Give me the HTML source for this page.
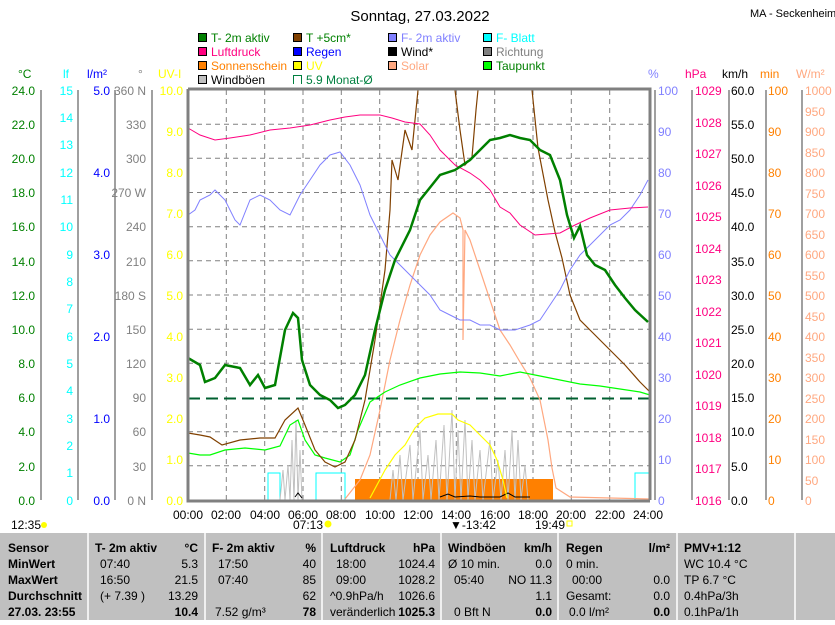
<!DOCTYPE html>
<html><head><meta charset="utf-8"><style>
body{margin:0;background:#fff;width:835px;height:620px;overflow:hidden;font-family:"Liberation Sans",sans-serif}
svg text{font-family:"Liberation Sans",sans-serif;font-size:12px}
</style></head><body>
<svg width="835" height="620" xmlns="http://www.w3.org/2000/svg">
<text x="420" y="21" text-anchor="middle" style="font-size:15px">Sonntag, 27.03.2022</text>
<text x="750" y="17" style="font-size:11px">MA - Seckenheim</text>
<!-- legend -->
<g stroke="#000" stroke-width="1">
<rect x="198.5" y="33.5" width="8" height="8" fill="#008000"/><rect x="293.5" y="33.5" width="8" height="8" fill="#804000"/><rect x="388.5" y="33.5" width="8" height="8" fill="#8080ff"/><rect x="483.5" y="33.5" width="8" height="8" fill="#00ffff"/>
<rect x="198.5" y="47.5" width="8" height="8" fill="#ff0080"/><rect x="293.5" y="47.5" width="8" height="8" fill="#0000ff"/><rect x="388.5" y="47.5" width="8" height="8" fill="#000"/><rect x="483.5" y="47.5" width="8" height="8" fill="#808080"/>
<rect x="198.5" y="61.5" width="8" height="8" fill="#ff8000"/><rect x="293.5" y="61.5" width="8" height="8" fill="#ffff00"/><rect x="388.5" y="61.5" width="8" height="8" fill="#ffa880"/><rect x="483.5" y="61.5" width="8" height="8" fill="#00ff00"/>
<rect x="198.5" y="75.5" width="8" height="8" fill="#c0c0c0"/>
</g>
<path d="M293.5 84V75.5H301.5V84" fill="none" stroke="#008040"/>
<g style="font-size:12px">
<text x="211" y="42" fill="#008000">T- 2m aktiv</text><text x="306" y="42" fill="#008000">T +5cm*</text><text x="401" y="42" fill="#8080ff">F- 2m aktiv</text><text x="496" y="42" fill="#00ffff">F- Blatt</text>
<text x="211" y="56" fill="#ff0080">Luftdruck</text><text x="306" y="56" fill="#0000ff">Regen</text><text x="401" y="56">Wind*</text><text x="496" y="56" fill="#808080">Richtung</text>
<text x="211" y="70" fill="#ff8000">Sonnenschein</text><text x="306" y="70" fill="#ffff00">UV</text><text x="401" y="70" fill="#ffa880">Solar</text><text x="496" y="70" fill="#008000">Taupunkt</text>
<text x="211" y="84">Windböen</text><text x="306" y="84" fill="#008040">5.9 Monat-Ø</text>
</g>
<!-- axis titles -->
<g style="font-size:11px">
<text x="18" y="78" fill="#008000">°C</text><text x="63" y="78" fill="#00ffff">lf</text><text x="87" y="78" fill="#0000ff">l/m²</text><text x="138" y="78" fill="#808080">°</text><text x="158" y="78" fill="#ffff00">UV-I</text>
<text x="648" y="78" fill="#8080ff">%</text><text x="685" y="78" fill="#ff0080">hPa</text><text x="722" y="78">km/h</text><text x="760" y="78" fill="#ff8000">min</text><text x="796" y="78" fill="#ffa880">W/m²</text>
</g>
<!-- grid -->
<g stroke="#808080" stroke-dasharray="5,4" stroke-width="1">
<path d="M226.3 90V500M264.7 90V500M303 90V500M341.3 90V500M379.7 90V500M418 90V500M456.3 90V500M494.7 90V500M533 90V500M571.3 90V500M609.7 90V500"/>
<path d="M188 124.2H650M188 158.3H650M188 192.5H650M188 226.7H650M188 260.8H650M188 295H650M188 329.2H650M188 363.3H650M188 431.7H650M188 465.8H650"/>
</g>
<path d="M188 398.5H650" stroke="#006030" stroke-width="2" stroke-dasharray="12,6"/>
<!-- orange sunshine -->
<rect x="355" y="479" width="198" height="21" fill="#ff8000"/>
<!-- cyan -->
<path d="M268 500V473H280V500M316 500V473H345V500M635 500V473H650" fill="none" stroke="#00ffff"/>
<!-- wind gusts -->
<path d="M280 500L283 470L285 500L288 465L290 500L292 440L294 500L296 420L298 500L300 450L302 500M390 500L393 470L396 500L400 455L403 500L410 445L413 500L420 430L423 500L428 455L431 500L436 440L439 500L444 425L447 500L452 410L455 500L458 430L461 500L465 420L468 500L472 440L475 500L480 450L483 500L490 440L493 500L498 460L501 500L505 450L508 500L512 430L515 500L518 440L521 500L525 465L528 500" fill="none" stroke="#c0c0c0"/>
<path d="M440 497L448 494L455 497L470 496L480 497L500 497L508 493L515 497L530 497M295 497L298 493L302 498" fill="none" stroke="#000"/>
<!-- UV -->
<polyline fill="none" stroke="#ffff00" stroke-width="1.2" points="370,498 385,470 395,455 405,445 415,428 425,418 438,414 452,414 458,420 470,425 480,435 490,445 497,460 503,480 507,498"/>
<!-- Solar -->
<polyline fill="none" stroke="#ffa880" stroke-width="1.2" points="345,499 360,480 370,455 380,410 390,360 400,320 410,285 420,255 430,235 440,222 453,213 460,218 463,230 463,340 465,230 470,240 480,270 490,300 500,330 510,345 520,362 530,378 540,400 548,440 552,468 556,488 570,497 650,499"/>
<!-- Taupunkt -->
<polyline fill="none" stroke="#00ff00" stroke-width="1.2" points="188,453 200,455 210,455 225,450 245,448 265,450 280,446 290,425 298,420 305,440 315,455 325,458 340,462 350,455 358,430 370,402 385,392 400,385 420,378 440,374 460,372 480,373 500,376 520,372 540,376 560,380 580,384 600,386 620,389 640,392 650,395"/>
<!-- T+5cm -->
<polyline fill="none" stroke="#804000" stroke-width="1.2" points="188,433 200,435 210,437 222,445 240,440 260,438 275,438 285,420 298,408 305,425 315,450 325,462 335,467 345,462 355,440 365,400 375,340 385,270 390,210 392,160 398,180 405,130 412,150 418,90"/>
<polyline fill="none" stroke="#804000" stroke-width="1.2" points="455,90 460,130 465,165 472,157 476,110 478,90"/>
<polyline fill="none" stroke="#804000" stroke-width="1.2" points="532,90 538,148 548,200 555,232 562,258 570,295 580,320 595,335 610,350 625,365 640,382 650,392"/>
<!-- F-2m -->
<polyline fill="none" stroke="#8080ff" stroke-width="1" points="188,215 195,210 200,200 210,195 215,190 225,200 235,220 240,225 250,200 260,195 270,200 280,210 290,215 300,195 310,180 320,165 330,155 340,152 350,165 360,185 370,215 380,235 390,255 400,265 410,275 420,285 430,295 440,310 450,315 460,320 470,320 480,325 490,325 500,330 515,330 530,325 540,320 550,305 560,290 570,270 580,255 590,245 600,235 610,225 620,220 630,210 640,195 648,180"/>
<!-- Luftdruck -->
<polyline fill="none" stroke="#ff0080" stroke-width="1" points="188,128 200,135 215,140 230,138 250,135 270,130 290,128 310,125 330,120 345,117 360,115 380,115 392,118 405,122 420,124 430,135 440,150 455,165 470,173 480,180 490,190 500,207 510,213 520,225 535,235 560,233 575,225 590,218 610,210 630,208 648,207"/>
<!-- T-2m -->
<polyline fill="none" stroke="#008000" stroke-width="2.5" points="188,358 200,365 205,382 215,378 225,365 240,368 250,385 258,375 265,388 275,385 285,330 293,313 298,318 302,360 310,385 320,395 330,400 338,408 345,405 355,395 365,375 375,330 385,290 395,260 410,230 420,200 432,185 440,175 455,170 470,160 480,150 490,140 500,138 510,135 520,138 530,140 540,150 550,155 560,180 567,215 574,238 580,226 587,255 595,265 605,270 615,285 625,298 635,310 648,322"/>
<!-- frame -->
<path d="M188 89H650V500M188 89V501H650" fill="none" stroke="#808080" stroke-width="3"/>
<!-- left axes -->
<g stroke="#808080" stroke-width="1.5"><path d="M41 90V500M78 90V500M115 90V500M152 90V500M655 90V500M692 90V500M729 90V500M766 90V500M802 90V500"/></g>
<g fill="#008000" text-anchor="end">
<text x="35" y="95">24.0</text><text x="35" y="129">22.0</text><text x="35" y="163">20.0</text><text x="35" y="197">18.0</text><text x="35" y="231">16.0</text><text x="35" y="266">14.0</text><text x="35" y="300">12.0</text><text x="35" y="334">10.0</text><text x="35" y="368">8.0</text><text x="35" y="402">6.0</text><text x="35" y="436">4.0</text><text x="35" y="471">2.0</text><text x="35" y="505">0.0</text></g>
<g fill="#00ffff" text-anchor="end">
<text x="73" y="95">15</text><text x="73" y="122">14</text><text x="73" y="149">13</text><text x="73" y="177">12</text><text x="73" y="204">11</text><text x="73" y="231">10</text><text x="73" y="259">9</text><text x="73" y="286">8</text><text x="73" y="313">7</text><text x="73" y="341">6</text><text x="73" y="368">5</text><text x="73" y="395">4</text><text x="73" y="423">3</text><text x="73" y="450">2</text><text x="73" y="477">1</text><text x="73" y="505">0</text></g>
<g fill="#0000ff" text-anchor="end"><text x="110" y="95">5.0</text><text x="110" y="177">4.0</text><text x="110" y="259">3.0</text><text x="110" y="341">2.0</text><text x="110" y="423">1.0</text><text x="110" y="505">0.0</text></g>
<g fill="#808080" text-anchor="end"><text x="146" y="95">360 N</text><text x="146" y="129">330</text><text x="146" y="163">300</text><text x="146" y="197">270 W</text><text x="146" y="231">240</text><text x="146" y="266">210</text><text x="146" y="300">180 S</text><text x="146" y="334">150</text><text x="146" y="368">120</text><text x="146" y="402">90</text><text x="146" y="436">60</text><text x="146" y="471">30</text><text x="146" y="505">0 N</text></g>
<g fill="#ffff00" text-anchor="end"><text x="183" y="95">10.0</text><text x="183" y="136">9.0</text><text x="183" y="177">8.0</text><text x="183" y="218">7.0</text><text x="183" y="259">6.0</text><text x="183" y="300">5.0</text><text x="183" y="341">4.0</text><text x="183" y="382">3.0</text><text x="183" y="423">2.0</text><text x="183" y="464">1.0</text><text x="183" y="505">0.0</text></g>
<g fill="#8080ff"><text x="658" y="95">100</text><text x="658" y="136">90</text><text x="658" y="177">80</text><text x="658" y="218">70</text><text x="658" y="259">60</text><text x="658" y="300">50</text><text x="658" y="341">40</text><text x="658" y="382">30</text><text x="658" y="423">20</text><text x="658" y="464">10</text><text x="658" y="505">0</text></g>
<g fill="#ff0080"><text x="695" y="95">1029</text><text x="695" y="127">1028</text><text x="695" y="158">1027</text><text x="695" y="190">1026</text><text x="695" y="221">1025</text><text x="695" y="253">1024</text><text x="695" y="284">1023</text><text x="695" y="316">1022</text><text x="695" y="347">1021</text><text x="695" y="379">1020</text><text x="695" y="410">1019</text><text x="695" y="442">1018</text><text x="695" y="473">1017</text><text x="695" y="505">1016</text></g>
<g fill="#000"><text x="731" y="95">60.0</text><text x="731" y="129">55.0</text><text x="731" y="163">50.0</text><text x="731" y="197">45.0</text><text x="731" y="231">40.0</text><text x="731" y="266">35.0</text><text x="731" y="300">30.0</text><text x="731" y="334">25.0</text><text x="731" y="368">20.0</text><text x="731" y="402">15.0</text><text x="731" y="436">10.0</text><text x="731" y="471">5.0</text><text x="731" y="505">0.0</text></g>
<g fill="#ff8000"><text x="768" y="95">100</text><text x="768" y="136">90</text><text x="768" y="177">80</text><text x="768" y="218">70</text><text x="768" y="259">60</text><text x="768" y="300">50</text><text x="768" y="341">40</text><text x="768" y="382">30</text><text x="768" y="423">20</text><text x="768" y="464">10</text><text x="768" y="505">0</text></g>
<g fill="#ffa880"><text x="805" y="95">1000</text><text x="805" y="116">950</text><text x="805" y="136">900</text><text x="805" y="157">850</text><text x="805" y="177">800</text><text x="805" y="198">750</text><text x="805" y="218">700</text><text x="805" y="239">650</text><text x="805" y="259">600</text><text x="805" y="280">550</text><text x="805" y="300">500</text><text x="805" y="321">450</text><text x="805" y="341">400</text><text x="805" y="362">350</text><text x="805" y="382">300</text><text x="805" y="403">250</text><text x="805" y="423">200</text><text x="805" y="444">150</text><text x="805" y="464">100</text><text x="805" y="485">50</text><text x="805" y="505">0</text></g>
<!-- time labels -->
<g text-anchor="middle"><text x="188" y="519">00:00</text><text x="226" y="519">02:00</text><text x="265" y="519">04:00</text><text x="303" y="519">06:00</text><text x="341" y="519">08:00</text><text x="380" y="519">10:00</text><text x="418" y="519">12:00</text><text x="456" y="519">14:00</text><text x="495" y="519">16:00</text><text x="533" y="519">18:00</text><text x="571" y="519">20:00</text><text x="610" y="519">22:00</text><text x="648" y="519">24:00</text></g>
<text x="11" y="529">12:35</text><circle cx="44" cy="525" r="3" fill="#ffff00"/>
<text x="293" y="529">07:13</text><circle cx="328" cy="524" r="3.5" fill="#ffff00"/>
<text x="450" y="529">▼-13:42</text>
<text x="535" y="529">19:49</text><rect x="567" y="521" width="5" height="5" fill="none" stroke="#ffff00"/>
<!-- table -->
<rect x="0" y="533" width="835" height="87" fill="#c0c0c0"/>
<g stroke="#fff" stroke-width="1.5"><path d="M88 533V620M205 533V620M322 533V620M441 533V620M558 533V620M677 533V620M795 533V620"/></g>
<g style="font-size:12px">
<g font-weight="bold"><text x="8" y="552">Sensor</text><text x="8" y="568">MinWert</text><text x="8" y="584">MaxWert</text><text x="8" y="600">Durchschnitt</text><text x="8" y="616">27.03. 23:55</text>
<text x="95" y="552">T- 2m aktiv</text><text x="198" y="552" text-anchor="end">°C</text>
<text x="212" y="552">F- 2m aktiv</text><text x="316" y="552" text-anchor="end">%</text>
<text x="330" y="552">Luftdruck</text><text x="435" y="552" text-anchor="end">hPa</text>
<text x="448" y="552">Windböen</text><text x="552" y="552" text-anchor="end">km/h</text>
<text x="566" y="552">Regen</text><text x="670" y="552" text-anchor="end">l/m²</text>
<text x="684" y="552">PMV+1:12</text>
<text x="198" y="616" text-anchor="end">10.4</text><text x="316" y="616" text-anchor="end">78</text><text x="435" y="616" text-anchor="end">1025.3</text><text x="552" y="616" text-anchor="end">0.0</text><text x="670" y="616" text-anchor="end">0.0</text></g>
<text x="100" y="568">07:40</text><text x="198" y="568" text-anchor="end">5.3</text>
<text x="100" y="584">16:50</text><text x="198" y="584" text-anchor="end">21.5</text>
<text x="100" y="600">(+ 7.39 )</text><text x="198" y="600" text-anchor="end">13.29</text>
<text x="218" y="568">17:50</text><text x="316" y="568" text-anchor="end">40</text>
<text x="218" y="584">07:40</text><text x="316" y="584" text-anchor="end">85</text>
<text x="316" y="600" text-anchor="end">62</text><text x="215" y="616">7.52 g/m³</text>
<text x="336" y="568">18:00</text><text x="435" y="568" text-anchor="end">1024.4</text>
<text x="336" y="584">09:00</text><text x="435" y="584" text-anchor="end">1028.2</text>
<text x="330" y="600">^0.9hPa/h</text><text x="435" y="600" text-anchor="end">1026.6</text>
<text x="330" y="616">veränderlich</text>
<text x="448" y="568">Ø 10 min.</text><text x="552" y="568" text-anchor="end">0.0</text>
<text x="454" y="584">05:40</text><text x="552" y="584" text-anchor="end">NO 11.3</text>
<text x="552" y="600" text-anchor="end">1.1</text><text x="454" y="616">0 Bft N</text>
<text x="566" y="568">0 min.</text>
<text x="572" y="584">00:00</text><text x="670" y="584" text-anchor="end">0.0</text>
<text x="566" y="600">Gesamt:</text><text x="670" y="600" text-anchor="end">0.0</text>
<text x="569" y="616">0.0 l/m²</text>
<text x="684" y="568">WC 10.4 °C</text><text x="684" y="584">TP 6.7 °C</text><text x="684" y="600">0.4hPa/3h</text><text x="684" y="616">0.1hPa/1h</text>
</g>
</svg>
</body></html>
